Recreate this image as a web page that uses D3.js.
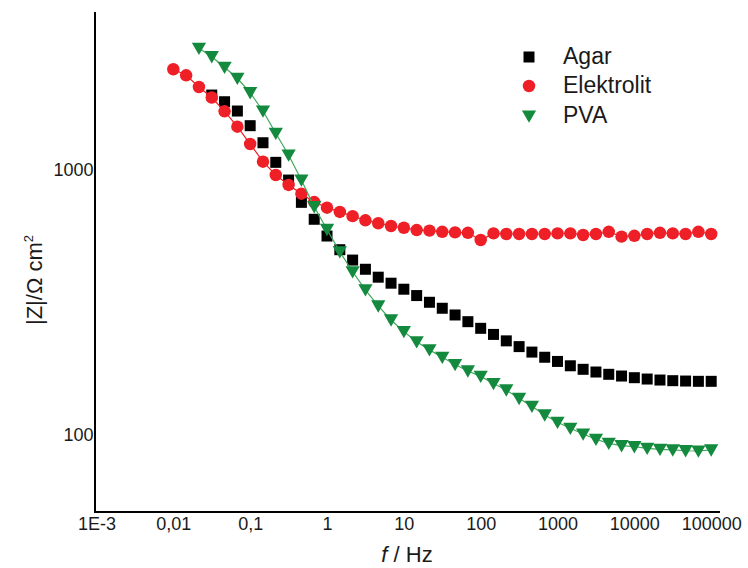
<!DOCTYPE html>
<html>
<head>
<meta charset="utf-8">
<script src="https://cdn.jsdelivr.net/npm/d3@7"></script>
<style>
  html, body { margin: 0; padding: 0; background: #fff; }
  svg { display: block; font-family: "Liberation Sans", Arial, sans-serif; }
</style>
</head>
<body>
<svg id="chart" width="748" height="568"></svg>
<script>
// Frequencies (Hz), 6 points per decade from 0.01 to 100000
const freq = [0.01, 0.01468, 0.02154, 0.03162, 0.04642, 0.06813, 0.1, 0.1468, 0.2154, 0.3162, 0.4642, 0.6813,
  1, 1.468, 2.154, 3.162, 4.642, 6.813, 10, 14.68, 21.54, 31.62, 46.42, 68.13,
  100, 146.8, 215.4, 316.2, 464.2, 681.3, 1000, 1468, 2154, 3162, 4642, 6813,
  10000, 14680, 21540, 31620, 46420, 68130, 100000];

// |Z| (Ohm cm^2) per series, aligned with freq (null = no point)
const agar = [null, null, null, 1913, 1805, 1665, 1466, 1264, 1066, 914, 753, 650,
  562, 499, 456, 421, 393, 373, 354, 335, 316, 300, 283, 267,
  252, 239, 226, 215, 205, 196, 189, 182, 176.5, 172.4, 169, 166.5,
  164.1, 162.2, 160.8, 159.9, 159.4, 159.0, 159.0];

const elektrolit = [2394, 2271, 2051, 1873, 1661, 1453, 1250, 1072, 955, 876, 812, 755,
  719, 693, 668, 644, 628, 613, 604, 592, 589, 583, 580, 578,
  543, 575, 572, 572, 572, 572, 575, 575, 567, 572, 583, 559,
  563, 572, 578, 575, 572, 583, 572];

const pva = [null, null, 2872, 2670, 2435, 2213, 1952, 1665, 1372, 1136, 914, 725,
  595, 490, 412, 352, 306, 271, 245, 224, 209, 196, 184, 174,
  166, 156, 147.5, 137, 128, 118.7, 111.4, 105.7, 100.6, 96.1, 92.8, 90.9,
  90.1, 88.8, 88.1, 87.6, 87.0, 86.8, 87.6];

const seriesNames = ["Agar", "Elektrolit", "PVA"];
const seriesColors = ["#000000", "#ee1f26", "#138a3e"];
const lineColors = [null, "#ee1f26", "#3fa85a"];

const xTickValues = [1e-3, 1e-2, 1e-1, 1, 10, 100, 1000, 10000, 100000];
const xTickLabels = ["1E-3", "0,01", "0,1", "1", "10", "100", "1000", "10000", "100000"];
const yTickValues = [100, 1000];
const yTickLabels = ["100", "1000"];

const svg = d3.select("#chart");

const x = d3.scaleLog().domain([1e-3, 1e5]).range([96.5, 711.2]);
const y = d3.scaleLog().domain([100, 1000]).range([434.7, 169.7]);

const axisLeftX = 95, axisBottomY = 512, axisTopY = 12, axisRightX = 720;

// Axis lines
svg.append("line").attr("x1", axisLeftX).attr("x2", axisLeftX)
  .attr("y1", axisTopY).attr("y2", axisBottomY + 1)
  .attr("stroke", "#000").attr("stroke-width", 2);
svg.append("line").attr("x1", axisLeftX - 1).attr("x2", axisRightX)
  .attr("y1", axisBottomY).attr("y2", axisBottomY)
  .attr("stroke", "#000").attr("stroke-width", 2);

// X axis labels
const xAxis = d3.axisBottom(x).tickValues(xTickValues)
  .tickFormat((d, i) => xTickLabels[i]).tickSize(0).tickPadding(5);
const gx = svg.append("g").attr("transform", `translate(0,${axisBottomY})`).call(xAxis);
gx.select(".domain").remove();
gx.selectAll("text").attr("font-size", 18).attr("fill", "#1a1a1a")
  .attr("font-family", "Liberation Sans, Arial, sans-serif");

// Y axis labels
const yAxis = d3.axisLeft(y).tickValues(yTickValues)
  .tickFormat((d, i) => yTickLabels[i]).tickSize(0).tickPadding(1.5);
const gy = svg.append("g").attr("transform", `translate(${axisLeftX},0)`).call(yAxis);
gy.select(".domain").remove();
gy.selectAll("text").attr("font-size", 18).attr("fill", "#1a1a1a")
  .attr("font-family", "Liberation Sans, Arial, sans-serif");

// Axis titles
const xt = svg.append("text").attr("x", 407).attr("y", 562)
  .attr("text-anchor", "middle").attr("font-size", 22).attr("fill", "#1a1a1a");
xt.append("tspan").attr("font-style", "italic").text("f");
xt.append("tspan").text(" / Hz");

const yt = svg.append("text").attr("transform", "translate(41.5,280) rotate(-90)")
  .attr("text-anchor", "middle").attr("font-size", 22).attr("fill", "#1a1a1a");
yt.append("tspan").text("|Z|/Ω cm");
yt.append("tspan").attr("font-size", 13).attr("dy", -9).text("2");

// Data
const allSeries = [agar, elektrolit, pva].map((vals, i) => ({
  name: seriesNames[i],
  color: seriesColors[i],
  lineColor: lineColors[i],
  points: freq.map((f, j) => ({ f, z: vals[j] })).filter(p => p.z != null)
}));

const symbolTypes = [d3.symbolSquare, d3.symbolCircle, d3.symbolTriangle];
const symbolSizes = [121, 122, 88];
const symbolRot = [0, 0, 180];
const symbolDy = [0, 0, 1.5];

const line = d3.line().x(d => x(d.f)).y(d => y(d.z));

allSeries.forEach((s, i) => {
  if (s.lineColor) {
    svg.append("path").datum(s.points)
      .attr("fill", "none").attr("stroke", s.lineColor).attr("stroke-width", 1.2)
      .attr("d", line);
  }
  const sym = d3.symbol().type(symbolTypes[i]).size(symbolSizes[i]);
  svg.append("g").selectAll("path").data(s.points).join("path")
    .attr("transform", d => `translate(${x(d.f)},${y(d.z) - symbolDy[i]}) rotate(${symbolRot[i]})`)
    .attr("d", sym)
    .attr("fill", s.color);
});

// Legend
const legendY = [57, 86, 114.5];
const legendTextY = [64, 93.3, 122.7];
seriesNames.forEach((n, i) => {
  const sym = d3.symbol().type(symbolTypes[i]).size(symbolSizes[i]);
  svg.append("path")
    .attr("transform", `translate(529,${legendY[i]}) rotate(${symbolRot[i]})`)
    .attr("d", sym).attr("fill", seriesColors[i]);
  svg.append("text").attr("x", 563).attr("y", legendTextY[i])
    .attr("font-size", 23).attr("fill", "#1a1a1a").text(n);
});
</script>
</body>
</html>
